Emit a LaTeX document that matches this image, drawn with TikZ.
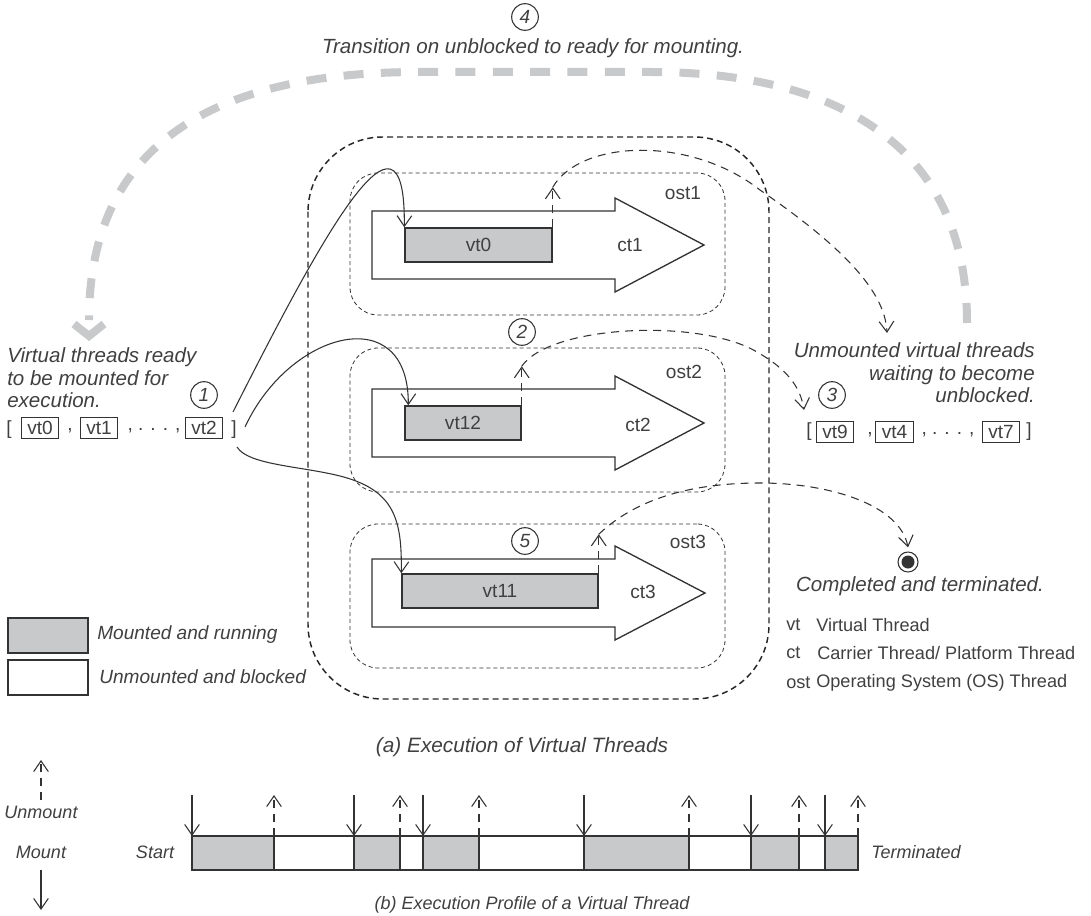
\documentclass[tikz,border=0pt]{standalone}
\usepackage{fontspec}
\setmainfont{Liberation Sans}
\usetikzlibrary{arrows.meta,fit,calc}
\definecolor{txt}{HTML}{404040}
\definecolor{ln}{HTML}{333333}
\definecolor{fillg}{HTML}{C8C9CB}
\definecolor{arcg}{HTML}{C8C9CB}
\begin{document}
\begin{tikzpicture}[x=0.75pt,y=-0.75pt,
  every node/.style={text=txt, font=\fontsize{14.3}{17}\selectfont},
  lbl/.style={font=\fontsize{15.4}{16.8}\selectfont\itshape},
  lgl/.style={font=\fontsize{14.3}{16}\selectfont\itshape, anchor=west, inner sep=0pt},
  leg/.style={font=\fontsize{13.6}{16}\selectfont, anchor=west, inner sep=0pt},
  captext/.style={font=\fontsize{13.5}{16}\selectfont\itshape},
  vtbox/.style={draw=ln, fill=fillg, line width=1.1pt, inner sep=0pt},
  wbox/.style={draw=ln, fill=white, line width=1.1pt, inner sep=0pt},
  vtsmall/.style={draw=ln, line width=0.8pt, inner xsep=4.6pt, inner ysep=0pt, minimum height=16pt},
  ctshape/.style={draw=ln, line width=1pt, fill=white, line join=miter},
  ostbox/.style={draw=ln, line width=0.6pt, dash pattern=on 3pt off 2.2pt, rounded corners=21pt, inner sep=0pt},
  outerbox/.style={draw=black!85, line width=1.1pt, dash pattern=on 4.5pt off 3pt, rounded corners=56pt},
  numc/.style={circle, draw=ln, line width=0.8pt, minimum size=20pt, inner sep=0pt, font=\fontsize{14.3}{16}\selectfont\itshape},
  mnt/.style={draw=ln, line width=0.8pt, -{Straight Barb[length=8pt,width=11pt]}},
  unm/.style={mnt, dash pattern=on 6pt off 4.5pt},
  grayarc/.style={draw=arcg, line width=6pt, dash pattern=on 15pt off 13pt}
]
\useasboundingbox (0,0) rectangle (1091,916);

% ---- top label and big grey transition arc
\node[numc] (n4) at (525,17) {4};
\node[lbl] (t4) at (533,48) {Transition on unblocked to ready for mounting.};
\coordinate (arcR) at (967,323);
\coordinate (arcL) at (89,320);
\draw[grayarc] (arcR) .. controls (967,140) and (830,72) .. (650,72) -- (420,72) .. controls (260,72) and (89,115) .. (arcL);
\draw[draw=arcg, line width=6pt, line join=miter] (74,324) -- (89,336) -- (104,324);

% ---- outer OS box
\draw[outerbox] (308,137) rectangle (769,699);

% ---- ost boxes
\node[ostbox, fit={(350,173)(725,315)}] (ost1) {};
\node[ostbox, fit={(350,348)(725,492)}] (ost2) {};
\node[ostbox, fit={(350,524)(725,668)}] (ost3) {};
\node (ost1l) at (683,193) {ost1};
\node (ost2l) at (684,372) {ost2};
\node (ost3l) at (688,542) {ost3};

% ---- carrier thread arrows
\draw[ctshape] (372,211) -- (615,211) -- (615,198) -- (704,245) -- (615,292) -- (615,279) -- (372,279) -- cycle;
\draw[ctshape] (372,389) -- (615,389) -- (615,376) -- (704,423) -- (615,470) -- (615,457) -- (372,457) -- cycle;
\draw[ctshape] (372,559) -- (615,559) -- (615,546) -- (705,593) -- (615,640) -- (615,627) -- (372,627) -- cycle;
\node (ct1) at (630,245) {ct1};
\node (ct2) at (638,425) {ct2};
\node (ct3) at (643,592) {ct3};

% ---- virtual threads mounted
\node[vtbox, fit={(405,228)(552,262)}, label=center:vt0] (vt0) {};
\node[vtbox, fit={(405,406)(521,440)}, label=center:vt12] (vt12) {};
\node[vtbox, fit={(402,574)(598,608)}, label=center:vt11] (vt11) {};

\node[numc] (n2) at (522,332) {2};
\node[numc] (n5) at (525,541) {5};

% ---- left list
\node[lbl, align=left, anchor=west, inner sep=0pt] (ready) at (7,378) {Virtual threads ready\\to be mounted for\\execution.};
\node[numc] (n1) at (204,395) {1};
\node (lb) at (9,430) {[};
\node[vtsmall] (l0) at (40,428) {vt0};
\node (lc1) at (70,431) {,};
\node[vtsmall] (l1) at (99,428) {vt1};
\node (ldots) at (154,431) {, . . . ,};
\node[vtsmall] (l2) at (204,428) {vt2};
\node (rb) at (234,430) {]};

% ---- right list
\node[lbl, align=right, anchor=east, inner sep=0pt] (blocked) at (1035,373) {Unmounted virtual threads\\waiting to become\\unblocked.};
\node[numc] (n3) at (832,395) {3};
\node (rlb) at (809,432) {[};
\node[vtsmall] (r0) at (835,432) {vt9};
\node (rc1) at (870,435) {,};
\node[vtsmall] (r1) at (894.5,432) {vt4};
\node (rdots) at (948,435) {, . . . ,};
\node[vtsmall] (r2) at (1001,432) {vt7};
\node (rrb) at (1029,432) {]};

% ---- mount connectors
\coordinate (m1) at (233,412);
\coordinate (m2) at (245,427);
\coordinate (m3) at (237,447);
\draw[mnt] (m1) .. controls (320,240) and (406,80) .. (vt0.north west);
\draw[mnt] (m2) .. controls (290,330) and (409,300) .. ([xshift=3pt]vt12.north west);
\draw[mnt] (m3) .. controls (248,465) and (300,466) .. (340,476) .. controls (395,490) and (402,520) .. (vt11.north west);

% ---- unmount connectors
\coordinate (u0) at ($(vt0.north east)+(0,-40)$);
\coordinate (u1) at ($(vt12.north east)+(0,-39)$);
\coordinate (u2) at ($(vt11.north east)+(0,-39)$);
\coordinate (b0) at (887,333);
\coordinate (b1) at (804,410);
\draw[unm] (vt0.north east) -- (u0);
\draw[unm] (vt12.north east) -- (u1);
\draw[unm] (vt11.north east) -- (u2);
\draw[unm] (u0) .. controls (580,140) and (690,135) .. (760,190) .. controls (840,245) and (885,290) .. (b0);
\draw[unm] (u1) .. controls (550,325) and (700,318) .. (757,352) .. controls (785,368) and (800,385) .. (b1);

% ---- terminal
\node[circle, draw=ln, line width=0.8pt, minimum size=15pt, inner sep=0pt] (term) at (908,562) {};
\fill[ln] (term.center) circle (6.5);
\draw[unm] (u2) .. controls (640,495) and (700,483) .. (760,483) .. controls (830,483) and (900,505) .. ([yshift=3pt]term.north);
\node[lbl] (done) at (920,586) {Completed and terminated.};

% ---- right legend
\node[leg] (k1) at (786,625) {vt};
\node[leg] (k1t) at (816,625) {Virtual Thread};
\node[leg] (k2) at (786,653) {ct};
\node[leg] (k2t) at (817,653) {Carrier Thread/ Platform Thread};
\node[leg] (k3) at (786,683) {ost};
\node[leg] (k3t) at (816,683) {Operating System (OS) Thread};

% ---- left legend
\node[vtbox, fit={(8,618)(88,653)}] (lg1) {};
\node[wbox, fit={(8,660)(88,695)}] (lg2) {};
\node[lgl] (lg1t) at (97,635) {Mounted and running};
\node[lgl] (lg2t) at (99,677) {Unmounted and blocked};

\node[captext, font=\fontsize{15.6}{18}\selectfont\itshape] (capa) at (522,747) {(a) Execution of Virtual Threads};

% ---- (b) execution profile
\foreach \a/\b/\c in {192/274/fillg,274/354/white,354/400/fillg,400/423/white,423/479/fillg,479/584/white,584/689/fillg,689/751/white,751/799/fillg,799/825/white,825/858/fillg}
  {\draw[line width=1pt, draw=ln, fill=\c] (\a,836) rectangle (\b,870);}
\foreach \x in {192,354,423,584,751,825} {\draw[mnt] (\x,795) -- (\x,836);}
\foreach \x in {274,400,479,689,799,858} {\draw[unm] (\x,836) -- (\x,795);}
\node[captext] (start) at (155,852) {Start};
\node[captext, anchor=west, inner sep=0pt] (endl) at (871,852) {Terminated};

\coordinate (ku0) at (41,800);
\coordinate (ku1) at (41,760);
\coordinate (kd0) at (41,870);
\coordinate (kd1) at (41,910);
\draw[unm] (ku0) -- (ku1);
\node[captext] (unmt) at (41,812) {Unmount};
\node[captext] (mntt) at (41,852) {Mount};
\draw[mnt] (kd0) -- (kd1);

\node[captext] (capb) at (532,905) {(b) Execution Profile of a Virtual Thread};
\end{tikzpicture}
\end{document}
